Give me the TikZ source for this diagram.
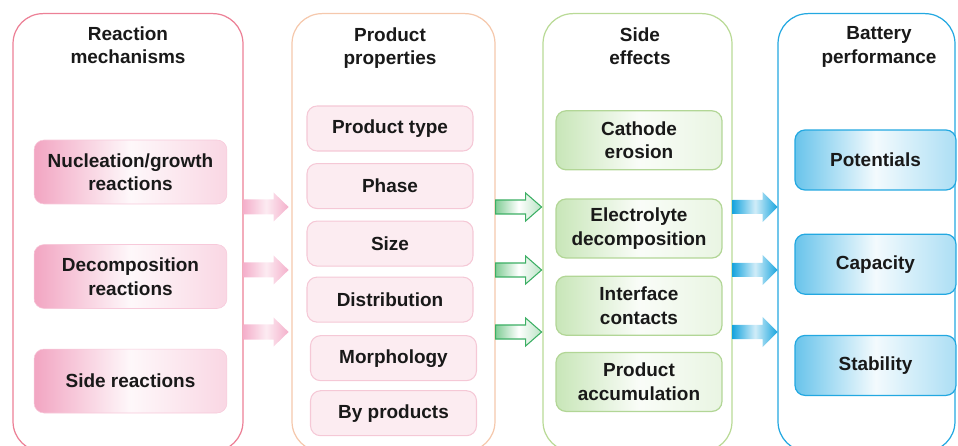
\documentclass[tikz,border=0pt]{standalone}
\usepackage{fontspec}
\setmainfont{Liberation Sans}
\usetikzlibrary{positioning, calc}
\definecolor{mechcolor}{RGB}{236,128,150}
\definecolor{propcolor}{RGB}{245,200,172}
\definecolor{sidecolor}{RGB}{185,218,150}
\definecolor{perfcolor}{RGB}{35,168,225}
\definecolor{mechfill}{RGB}{242,165,194}
\definecolor{propfill}{RGB}{252,236,241}
\definecolor{propborder}{RGB}{245,200,214}
\definecolor{sidefill}{RGB}{200,230,184}
\definecolor{sideborder}{RGB}{178,214,150}
\definecolor{perffill}{RGB}{105,196,235}
\definecolor{pinkarrow}{RGB}{244,176,203}
\definecolor{greenline}{RGB}{60,175,100}
\definecolor{greenfill}{RGB}{130,205,150}
\definecolor{bluearrow}{RGB}{25,165,222}
\definecolor{inktext}{RGB}{25,25,25}
\tikzset{
    panel/.style={rectangle, draw=#1, rounded corners=0.6cm, line width=0.7pt,
        minimum height=8.76cm, anchor=north},
    heading/.style={align=center, text=inktext},
    mechbox/.style={rectangle, rounded corners=0.2cm, draw=mechfill!60, line width=0.3pt,
        left color=mechfill, right color=mechfill!45, middle color=mechfill!8,
        minimum width=3.86cm, minimum height=1.28cm, align=center, text=inktext},
    propbox/.style={rectangle, rounded corners=0.2cm, draw=propborder, line width=0.6pt,
        fill=propfill, minimum width=3.32cm, minimum height=0.9cm, align=center, text=inktext},
    sidebox/.style={rectangle, rounded corners=0.2cm, draw=sideborder, line width=0.7pt,
        left color=sidefill, right color=sidefill!40, middle color=sidefill!10,
        minimum width=3.32cm, minimum height=1.18cm, align=center, text=inktext},
    perfbox/.style={rectangle, rounded corners=0.2cm, draw=perfcolor, line width=0.7pt,
        left color=perffill, right color=perffill!55, middle color=perffill!8,
        minimum width=3.22cm, minimum height=1.2cm, align=center, text=inktext},
    pinkfat/.style={left color=pinkarrow, right color=pinkarrow, middle color=pinkarrow!25},
    greenfat/.style={draw=greenline, line width=0.6pt,
        left color=greenfill, right color=greenfill!55, middle color=white},
    bluefat/.style={left color=bluearrow, right color=bluearrow, middle color=bluearrow!20}
}

\begin{document}
\begin{tikzpicture}[x=0.02cm, y=-0.02cm,
    font=\fontsize{10.8}{13.4}\selectfont\bfseries]

    \useasboundingbox (0,0) rectangle (958,446);
    \clip (0,0) rectangle (958,446);

    \node[panel=mechcolor, minimum width=4.6cm] (mech) at (128,13) {};
    \node[panel=propcolor, minimum width=4.06cm] (prop) at (393.5,13) {};
    \node[panel=sidecolor, minimum width=3.78cm] (side) at (637.5,13) {};
    \node[panel=perfcolor, minimum width=3.54cm] (perf) at (866.5,13) {};

    \node[heading] (mechtitle) at (128,45) {Reaction\\mechanisms};
    \node[heading] (proptitle) at (390,48) {Product\\properties};
    \node[heading] (sidetitle) at (640,46) {Side\\effects};
    \node[heading] (perftitle) at (879,47) {Battery\\performance};

    \node[mechbox] (nucl) at (130.5,172) {Nucleation/growth\\reactions};
    \node[mechbox, below=0.8cm of nucl] (decomp) {Decomposition\\reactions};
    \node[mechbox, below=0.8cm of decomp] (sidereac) {Side reactions};

    \node[propbox] (ptype) at (390,128.5) {Product type};
    \node[propbox, below=0.23cm of ptype] (phase) {Phase};
    \node[propbox, below=0.23cm of phase] (size) {Size};
    \node[propbox, below=0.2cm of size] (distr) {Distribution};
    \node[propbox, below=0.25cm of distr, xshift=0.07cm] (morph) {Morphology};
    \node[propbox, below=0.18cm of morph] (byprod) {By products};

    \node[sidebox] (electro) at (639,228.5) {Electrolyte\\decomposition};
    \node[sidebox, above=0.56cm of electro] (cathode) {Cathode\\erosion};
    \node[sidebox, below=0.34cm of electro] (interf) {Interface\\contacts};
    \node[sidebox, below=0.32cm of interf] (accum) {Product\\accumulation};

    \node[perfbox] (potent) at (875.5,160) {Potentials};
    \node[perfbox, below=0.86cm of potent] (capac) {Capacity};
    \node[perfbox, below=0.8cm of capac] (stab) {Stability};

    \foreach \y in {207,270,332} {
        \path[pinkfat] (mech.east |- 0,\y) ++(0,-7.5) -- ++(30,0) -- ++(0,-7)
            -- ++(15,14.5) -- ++(-15,14.5) -- ++(0,-7) -- ++(-30,0) -- cycle;
        \path[greenfat] (prop.east |- 0,\y) ++(0,-7) -- ++(30,0) -- ++(0,-7)
            -- ++(16,14) -- ++(-16,14) -- ++(0,-7) -- ++(-30,0) -- cycle;
        \path[bluefat] (side.east |- 0,\y) ++(0,-7) -- ++(30,0) -- ++(0,-8)
            -- ++(15,15) -- ++(-15,15) -- ++(0,-8) -- ++(-30,0) -- cycle;
    }

\end{tikzpicture}
\end{document}
